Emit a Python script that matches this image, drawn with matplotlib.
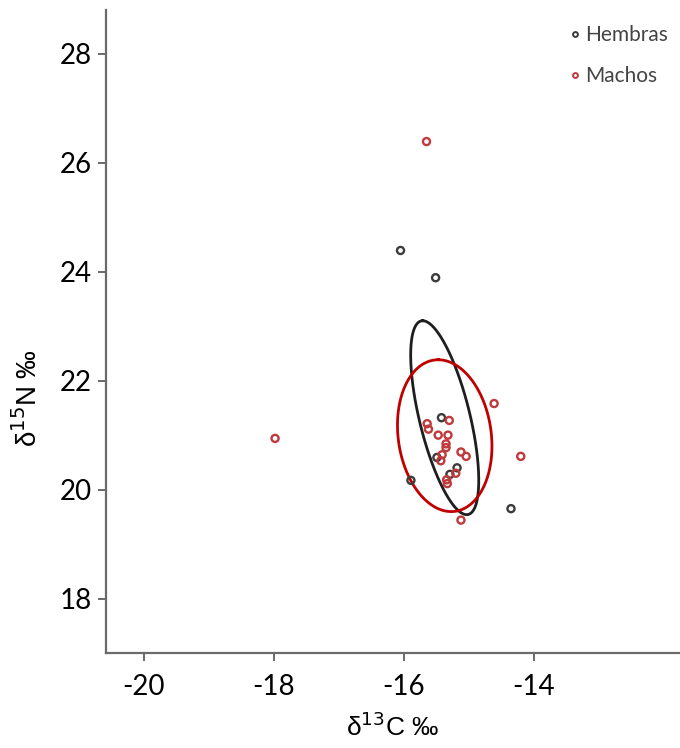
import numpy as np
import matplotlib
matplotlib.use("Agg")
import matplotlib.pyplot as plt
from matplotlib.lines import Line2D

plt.rcParams["axes.unicode_minus"] = False

# isotopos: hembras
hem_c = [-16.05, -15.51, -15.42, -15.49, -15.18, -15.29, -15.89, -14.35]
hem_n = [24.39, 23.89, 21.32, 20.59, 20.40, 20.28, 20.17, 19.65]

# isotopos: machos
mac_c = [-15.65, -17.98, -14.61, -15.30, -15.64, -15.62, -15.47, -15.32, -15.35,
         -15.35, -15.12, -15.04, -15.41, -15.43, -15.20, -15.34, -15.33, -14.20, -15.12]
mac_n = [26.39, 20.94, 21.58, 21.27, 21.21, 21.11, 21.00, 21.00, 20.84,
         20.77, 20.69, 20.61, 20.64, 20.53, 20.30, 20.18, 20.11, 20.61, 19.44]

# elipses: centro y semidiametros conjugados (vertical, horizontal)
hem_centro = (-15.37, 21.32)
hem_a = (-0.338, 1.78)
hem_b = (0.40, 0.0)

mac_centro = (-15.37, 20.99)
mac_a = (-0.10, 1.394)
mac_b = (0.72, 0.0)

xticks = [-20, -18, -16, -14]
yticks = [18, 20, 22, 24, 26, 28]

col_h = "#3c3c3c"
col_m = "#c0393b"


def elipse(centro, a, b, n=300):
    t = np.linspace(0, 2*np.pi, n)
    x = centro[0] + a[0]*np.cos(t) + b[0]*np.sin(t)
    y = centro[1] + a[1]*np.cos(t) + b[1]*np.sin(t)
    return x, y


fig = plt.figure(figsize=(6.8, 7.48), dpi=100)
ax = fig.add_axes([0.156, 0.127, 0.844, 0.860])

ex, ey = elipse(hem_centro, hem_a, hem_b)
ax.plot(ex, ey, color="#1e1e1e", linewidth=2)
ex, ey = elipse(mac_centro, mac_a, mac_b)
ax.plot(ex, ey, color="#c00000", linewidth=2)

ax.scatter(hem_c, hem_n, s=26, facecolors="none", edgecolors=col_h, linewidths=1.7, zorder=3)
ax.scatter(mac_c, mac_n, s=26, facecolors="none", edgecolors=col_m, linewidths=1.7, zorder=3)

ax.set_xlim(-20.58, -11.75)
ax.set_ylim(17.0, 28.81)
ax.set_xticks(xticks)
ax.set_yticks(yticks)

for s in ["top", "right"]:
    ax.spines[s].set_visible(False)
for s in ["left", "bottom"]:
    ax.spines[s].set_color("#6a6a6a")
    ax.spines[s].set_linewidth(1.6)
ax.tick_params(direction="out", length=6, width=1.4, color="#6a6a6a", labelsize=20, pad=4)
ax.tick_params(axis="x", pad=9)
for lab in ax.get_xticklabels() + ax.get_yticklabels():
    lab.set_fontfamily("Lato")

ax.set_xlabel("δ$^{13}$C ‰", fontsize=19, family="Liberation Sans", labelpad=9)
ax.set_ylabel("δ$^{15}$N ‰", fontsize=20, family="Liberation Sans")
ax.yaxis.set_label_coords(-0.11, 0.397)

handles = [
    Line2D([], [], marker="o", linestyle="none", markersize=3.5, markerfacecolor="none",
           markeredgecolor=col_h, markeredgewidth=1.4, label="Hembras"),
    Line2D([], [], marker="o", linestyle="none", markersize=3.5, markerfacecolor="none",
           markeredgecolor=col_m, markeredgewidth=1.4, label="Machos"),
]
leg = ax.legend(handles=handles, loc="upper right", bbox_to_anchor=(1.012, 1.005), frameon=False,
                handlelength=0.4, handletextpad=0.3, labelspacing=1.0,
                prop={"family": "Lato", "size": 15})
for t in leg.get_texts():
    t.set_color("#444444")

fig.savefig("out.png", dpi=100)
